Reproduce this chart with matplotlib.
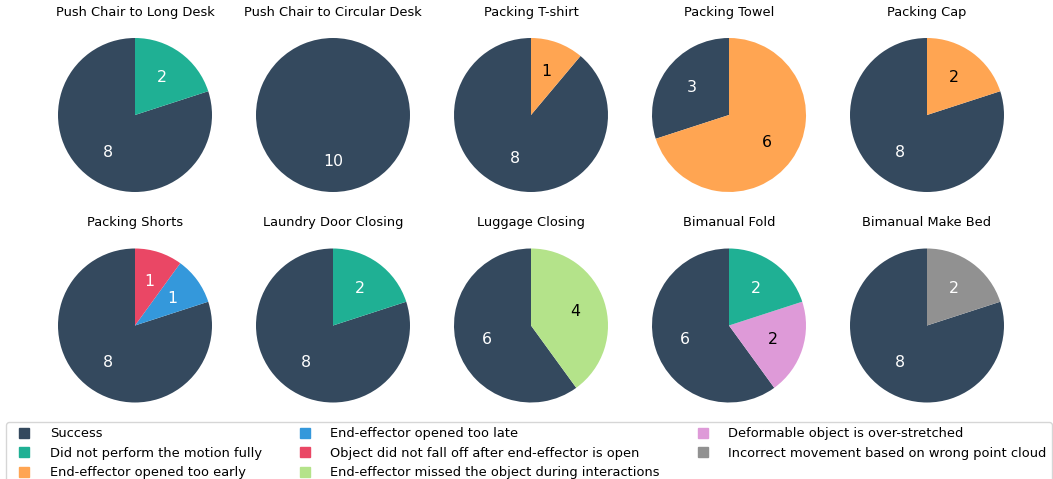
import matplotlib.pyplot as plt
from matplotlib.lines import Line2D

tasks = ['Push Chair to Long Desk', 'Push Chair to Circular Desk', 'Packing T-shirt',
         'Packing Towel', 'Packing Cap', 'Packing Shorts', 'Laundry Door Closing',
         'Luggage Closing', 'Bimanual Fold', 'Bimanual Make Bed']

categories = ['Success',
              'Did not perform the motion fully',
              'End-effector opened too early',
              'End-effector opened too late',
              'Object did not fall off after end-effector is open',
              'End-effector missed the object during interactions',
              'Deformable object is over-stretched',
              'Incorrect movement based on wrong point cloud']
colors = ['#34495e', '#1fb094', '#ffa552', '#3498db', '#ea4765', '#b4e38a', '#de9ad8', '#919191']
text_colors = ['white', 'white', 'black', 'white', 'white', 'black', 'black', 'white']

# which category each slice belongs to (counter-clockwise from the top)
slice_cats = [[0, 1], [0], [0, 2], [0, 2], [0, 2],
              [0, 3, 4], [0, 1], [0, 5], [0, 6, 1], [0, 7]]
slice_counts = [[8, 2], [10], [8, 1], [3, 7], [8, 2],
                [8, 1, 1], [8, 2], [6, 4], [6, 2, 2], [8, 2]]
# numbers printed on the slices
slice_labels = [['8', '2'], ['10'], ['8', '1'], ['3', '6'], ['8', '2'],
                ['8', '1', '1'], ['8', '2'], ['6', '4'], ['6', '2', '2'], ['8', '2']]

W, H = 1053, 479
fig = plt.figure(figsize=(W / 100, H / 100), dpi=100)

R = 77  # pie radius in pixels
col_x = [135, 333, 531, 729, 927]
row_y = [115, 325.5]
half = 1.25 * R

for i, task in enumerate(tasks):
    cx = col_x[i % 5]
    cy = row_y[i // 5]
    ax = fig.add_axes([(cx - half) / W, 1 - (cy + half) / H, 2 * half / W, 2 * half / H])
    cats = slice_cats[i]
    wedges, texts = ax.pie(slice_counts[i], labels=slice_labels[i], startangle=90,
                           colors=[colors[c] for c in cats], labeldistance=0.6,
                           textprops={'fontsize': 11.3, 'ha': 'center', 'va': 'center'})
    for t, c in zip(texts, cats):
        t.set_color(text_colors[c])
    ax.set_xlim(-1.25, 1.25)
    ax.set_ylim(-1.25, 1.25)
    ax.set_title(task, fontsize=9.4, pad=2)

handles = [Line2D([0], [0], marker='s', linestyle='none', markersize=7.5,
                  markerfacecolor=c, markeredgecolor=c) for c in colors]
fig.legend(handles, categories, ncol=3, fontsize=9.4, loc='upper left',
           bbox_to_anchor=(6 / W, 1 - 422 / H), borderaxespad=0,
           handletextpad=0.95, columnspacing=2.3)

plt.savefig('out.png', dpi=100)
